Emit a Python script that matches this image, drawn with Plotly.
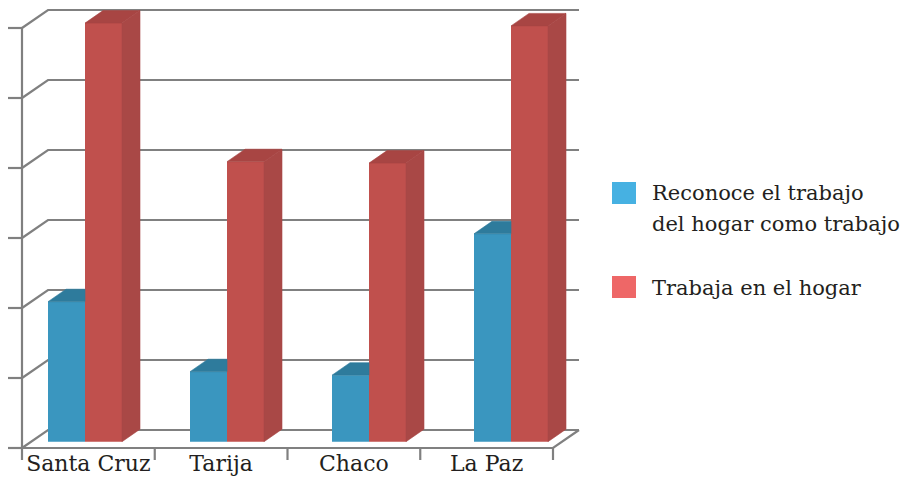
import plotly.graph_objects as go

# ---- data -------------------------------------------------------------
categories = ["Santa Cruz", "Tarija", "Chaco", "La Paz"]
reconoce = [20, 10, 9.5, 29.7]          # Reconoce el trabajo del hogar como trabajo
trabaja = [59.8, 40, 39.8, 59.4]        # Trabaja en el hogar
grid_values = [0, 10, 20, 30, 40, 50, 60]
legend_lines = [["Reconoce el trabajo", "del hogar como trabajo"], ["Trabaja en el hogar"]]

# ---- styling ----------------------------------------------------------
W, H = 901, 480
FONT = "DejaVu Serif"
TEXT = "#231f20"
GRID = "#808080"
BLUE_FRONT, BLUE_TOP = "#3a96bf", "#2e7b9c"
RED_FRONT, RED_SIDE, RED_TOP = "#c0504d", "#a94846", "#a84543"
BLUE_KEY, RED_KEY = "#46b1e2", "#ee6767"

# box (walls + floor) geometry in pixels
FRAME_LEFT, FRAME_STEP = 22, 132.75
FRAME_ZERO, PX_PER_UNIT = 448, 7.0
WALL_DX, WALL_DY = 26, 18
STUB, TICK = 14, 12

# bar geometry in pixels
BAR_CENTER0, BAR_STEP = 85, 142
BAR_ZERO = 441.7
BAR_W = 37
BAR_DX, BAR_DY = 18, 12.5

n = len(categories)

# ---- box frame (drawn on x/y) ----------------------------------------
fdx = WALL_DX / FRAME_STEP
fdy = WALL_DY / PX_PER_UNIT
stub = STUB / FRAME_STEP
tick = TICK / PX_PER_UNIT
x0, x1 = -0.5, n - 0.5

fx, fy = [], []
def seg(xs, ys):
    fx.extend(list(xs) + [None])
    fy.extend(list(ys) + [None])

for v in grid_values:
    seg([x0 - stub, x0], [v, v])
    seg([x0, x0 + fdx, x1 + fdx], [v, v + fdy, v + fdy])
seg([x0, x1, x1 + fdx], [0, 0, fdy])
seg([x0, x0], [-tick, max(grid_values)])
for k in range(1, n + 1):
    seg([x0 + k, x0 + k], [0, -tick])

fig = go.Figure()
fig.add_trace(go.Scatter(x=fx, y=fy, mode="lines",
                         line=dict(color=GRID, width=2.2),
                         hoverinfo="skip", xaxis="x", yaxis="y"))

# category labels under the floor
fig.add_trace(go.Scatter(x=list(range(n)), y=[-2.5] * n, mode="text",
                         text=categories,
                         textfont=dict(family=FONT, size=22, color=TEXT),
                         hoverinfo="skip", xaxis="x", yaxis="y"))

# ---- bars (drawn on x2/y2) -------------------------------------------
bw = BAR_W / BAR_STEP
bdx = BAR_DX / BAR_STEP
bdy = BAR_DY / PX_PER_UNIT
idx = list(range(n))

fig.add_trace(go.Bar(x=idx, y=reconoce, width=bw, offset=-bw,
                     marker=dict(color=BLUE_FRONT, line=dict(width=0)),
                     xaxis="x2", yaxis="y2"))
fig.add_trace(go.Bar(x=idx, y=trabaja, width=bw, offset=0,
                     marker=dict(color=RED_FRONT, line=dict(width=0)),
                     xaxis="x2", yaxis="y2"))

def polys(shapes):
    xs, ys = [], []
    for pts in shapes:
        for px_, py_ in pts + [pts[0]]:
            xs.append(px_)
            ys.append(py_)
        xs.append(None)
        ys.append(None)
    return xs, ys

# blue top faces: only the part not hidden behind the red bar
blue_top = [[(i - bw, v), (i, v), (i, v + bdy), (i - bw + bdx, v + bdy)]
            for i, v in zip(idx, reconoce)]
red_top = [[(i, v), (i + bw, v), (i + bw + bdx, v + bdy), (i + bdx, v + bdy)]
           for i, v in zip(idx, trabaja)]
red_side = [[(i + bw, 0), (i + bw, v), (i + bw + bdx, v + bdy), (i + bw + bdx, bdy)]
            for i, v in zip(idx, trabaja)]

for shapes, col in [(blue_top, BLUE_TOP), (red_side, RED_SIDE), (red_top, RED_TOP)]:
    xs, ys = polys(shapes)
    fig.add_trace(go.Scatter(x=xs, y=ys, mode="lines", fill="toself",
                             fillcolor=col, line=dict(color=col, width=0.6),
                             hoverinfo="skip", xaxis="x2", yaxis="y2"))

# ---- legend -----------------------------------------------------------
def px_x(p):
    return p / W

def px_y(p):
    return 1 - p / H

shapes = [
    dict(type="rect", xref="paper", yref="paper", x0=px_x(612), x1=px_x(636),
         y0=px_y(182), y1=px_y(204), fillcolor=BLUE_KEY, line=dict(width=0)),
    dict(type="rect", xref="paper", yref="paper", x0=px_x(612), x1=px_x(636),
         y0=px_y(276), y1=px_y(298), fillcolor=RED_KEY, line=dict(width=0)),
]
annotations = []
line_rows = [[193, 224], [288]]
for lines, rows in zip(legend_lines, line_rows):
    for txt, row in zip(lines, rows):
        annotations.append(dict(text=txt, xref="paper", yref="paper",
                                x=px_x(650), y=px_y(row), xanchor="left",
                                yanchor="middle", showarrow=False,
                                font=dict(family=FONT, size=21, color=TEXT)))

hidden = dict(visible=False, showgrid=False, zeroline=False, fixedrange=True)
fig.update_layout(
    width=W, height=H,
    margin=dict(l=0, r=0, t=0, b=0),
    paper_bgcolor="white", plot_bgcolor="white",
    showlegend=False, barmode="overlay",
    font=dict(family=FONT, color=TEXT),
    xaxis=dict(range=[x0 - FRAME_LEFT / FRAME_STEP, x0 + (W - FRAME_LEFT) / FRAME_STEP],
               domain=[0, 1], **hidden),
    yaxis=dict(range=[(FRAME_ZERO - H) / PX_PER_UNIT, FRAME_ZERO / PX_PER_UNIT],
               domain=[0, 1], **hidden),
    xaxis2=dict(range=[-BAR_CENTER0 / BAR_STEP, (W - BAR_CENTER0) / BAR_STEP],
                overlaying="x", **hidden),
    yaxis2=dict(range=[(BAR_ZERO - H) / PX_PER_UNIT, BAR_ZERO / PX_PER_UNIT],
                overlaying="y", **hidden),
    shapes=shapes, annotations=annotations,
)

fig.write_html("out.html")
